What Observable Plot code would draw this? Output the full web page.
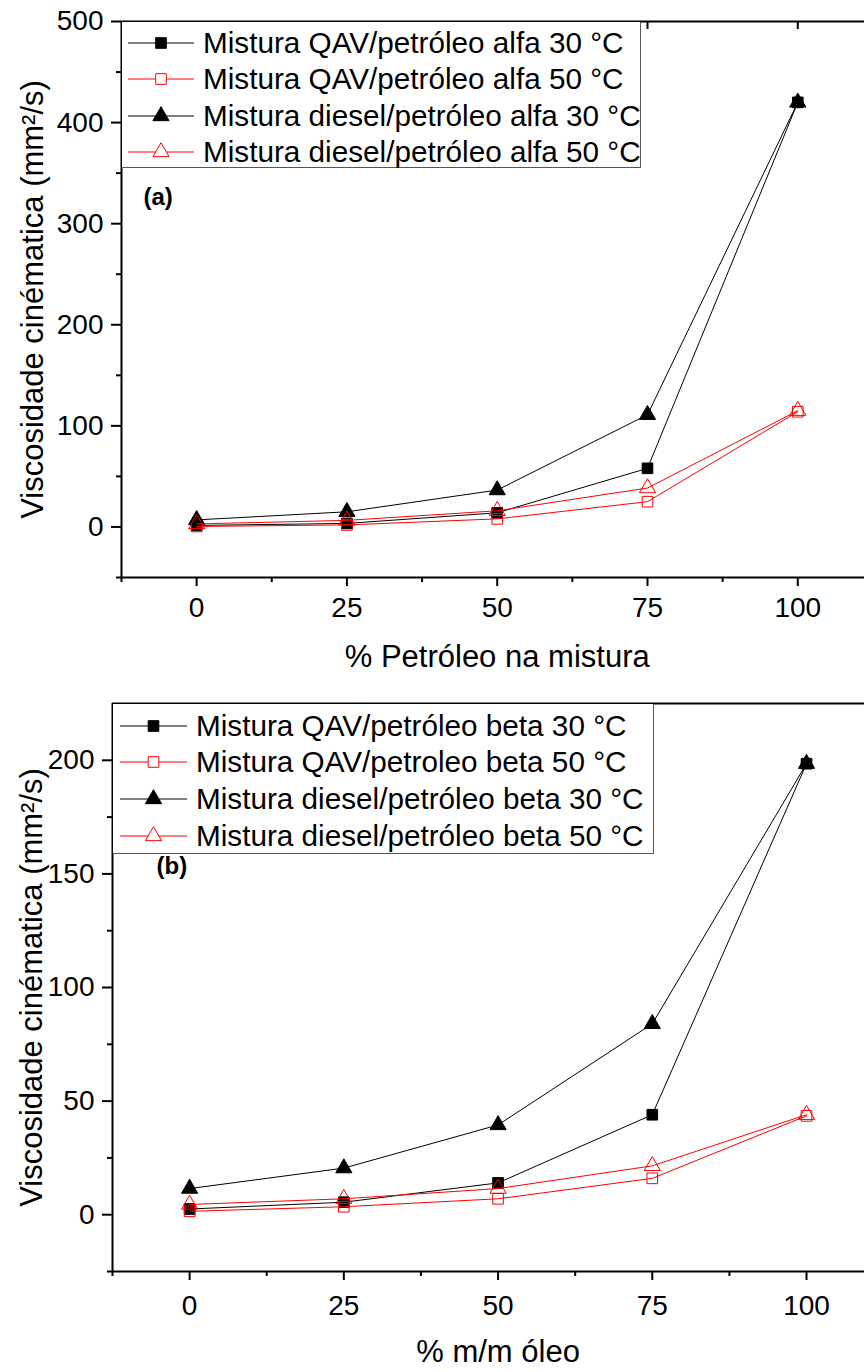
<!DOCTYPE html>
<html><head><meta charset="utf-8">
<script src="https://cdn.jsdelivr.net/npm/d3@7"></script>
<script src="https://cdn.jsdelivr.net/npm/@observablehq/plot@0.6"></script>
<style>
html,body{margin:0;padding:0;background:#fff;overflow:hidden;}
#wrap{position:relative;width:864px;height:1372px;font-family:Arial,"Liberation Sans",sans-serif;color:#000;}
.panel{position:absolute;left:0;}
.legend{position:absolute;background:#fff;border-right:1px solid #555;border-bottom:1px solid #555;box-sizing:border-box;}
.row{position:absolute;left:0;height:36px;display:flex;align-items:center;font-size:29.7px;white-space:nowrap;line-height:36px;}
.row svg{flex:none;}
</style></head><body><div id="wrap"></div>
<script>
// ---------- data ----------
const xValues = [0, 25, 50, 75, 100];

// Panel (a): alfa oil
const namesA = [
  "Mistura QAV/petróleo alfa 30 °C",
  "Mistura QAV/petróleo alfa 50 °C",
  "Mistura diesel/petróleo alfa 30 °C",
  "Mistura diesel/petróleo alfa 50 °C"
];
const aQAV30 = [1.5, 3.5, 14, 58, 420];
const aQAV50 = [0.5, 2, 8, 25, 114];
const aDiesel30 = [7, 15, 36.5, 111, 420];
const aDiesel50 = [3, 6.5, 16, 38.5, 115];

// Panel (b): beta oil
const namesB = [
  "Mistura QAV/petróleo beta 30 °C",
  "Mistura QAV/petroleo beta 50 °C",
  "Mistura diesel/petróleo beta 30 °C",
  "Mistura diesel/petróleo beta 50 °C"
];
const bQAV30 = [2.5, 5.5, 14, 44, 198.5];
const bQAV50 = [1.5, 3.5, 7, 16, 43.5];
const bDiesel30 = [11.5, 20.5, 39.5, 84, 198.5];
const bDiesel50 = [4.5, 7, 11.5, 21.5, 44];

// ticks
const xTicksMajor = [0, 25, 50, 75, 100];
const xTicksMinor = [-12.5, 12.5, 37.5, 62.5, 87.5];
const yTicksA = [0, 100, 200, 300, 400, 500];
const yTicksMinorA = [-50, 50, 150, 250, 350, 450];
const yTicksB = [0, 50, 100, 150, 200];
const yTicksMinorB = [-25, 25, 75, 125, 175];

const yLabel = "Viscosidade cinématica (mm²/s)";
const xLabelA = "% Petróleo na mistura";
const xLabelB = "% m/m óleo";

// ---------- styles ----------
const styles = [
  {color: "#000000", symbol: "square", filled: true},
  {color: "#ff0000", symbol: "square", filled: false},
  {color: "#000000", symbol: "triangle", filled: true},
  {color: "#ff0000", symbol: "triangle", filled: false}
];
const R = 6;

function toRows(vals) { return xValues.map((x, i) => ({x, y: vals[i]})); }

function makePanel(o) {
  const series = o.values.map((v, i) => ({rows: toRows(v), ...styles[i]}));
  const marks = [
    Plot.axisX({ticks: xTicksMinor, tickSize: 5, tickFormat: () => "", strokeWidth: 2, label: null}),
    Plot.axisX({ticks: xTicksMajor, tickSize: 9, tickPadding: o.xTickPad, fontSize: 28, strokeWidth: 2, label: null}),
    Plot.axisY({ticks: o.yMinor, tickSize: 5, tickFormat: () => "", strokeWidth: 2, label: null}),
    Plot.axisY({ticks: o.yTicks, tickSize: 10, tickPadding: 8, fontSize: 28, strokeWidth: 2, label: null}),
    Plot.ruleX([o.xDomain[0]], {stroke: "#000", strokeWidth: 2}),
    Plot.ruleY([o.yDomain[0]], {stroke: "#000", strokeWidth: 2}),
    Plot.ruleY([o.yDomain[1]], {stroke: "#000", strokeWidth: 2})
  ];
  if (o.topTicks) {
    marks.push(Plot.ruleX(xTicksMajor, {y1: o.yDomain[1], y2: o.yDomain[1], insetBottom: -8, stroke: "#000", strokeWidth: 2}));
  }
  for (const s of series) {
    marks.push(Plot.line(s.rows, {x: "x", y: "y", stroke: s.color, strokeWidth: 1}));
    marks.push(Plot.dot(s.rows, {x: "x", y: "y", symbol: s.symbol, r: R,
      fill: s.filled ? s.color : "none", stroke: s.color, strokeWidth: 1}));
  }
  marks.push(Plot.text([yLabel], {frameAnchor: "left", rotate: -90, dx: o.yLabelDx,
    textAnchor: "middle", lineAnchor: "middle", fontSize: 31, fill: "#000"}));
  marks.push(Plot.text([{x: d3.mean(xTicksMajor), t: o.xLabel}], {x: "x", text: "t", frameAnchor: "bottom",
    dy: o.xLabelDy, lineAnchor: "middle", fontSize: 31, fill: "#000"}));
  marks.push(Plot.text([o.tag], {frameAnchor: "top-left", dx: o.tagDx, dy: o.tagDy, textAnchor: "start",
    lineAnchor: "middle", fontSize: 24, fontWeight: "bold", fill: "#000"}));
  return Plot.plot({
    width: 864, height: o.height,
    marginTop: o.mt, marginBottom: o.mb, marginLeft: o.ml, marginRight: 0,
    x: {domain: o.xDomain, label: null}, y: {domain: o.yDomain, label: null},
    style: {fontFamily: "Arial, 'Liberation Sans', sans-serif", background: "#fff", color: "#000", overflow: "visible"},
    marks
  });
}

function makeLegend(names, box) {
  const lg = document.createElement("div");
  lg.className = "legend";
  Object.assign(lg.style, {left: box.left + "px", top: box.top + "px", width: box.width + "px", height: box.height + "px"});
  names.forEach((name, i) => {
    const st = styles[i];
    const row = document.createElement("div");
    row.className = "row";
    row.style.top = (box.rows[i] - 18) + "px";
    const svg = d3.create("svg").attr("width", box.textX).attr("height", 36);
    svg.append("line").attr("x1", box.lineX1).attr("x2", box.lineX2).attr("y1", 18).attr("y2", 18)
      .attr("stroke", st.color).attr("stroke-width", 1);
    svg.append("path").attr("transform", `translate(${(box.lineX1 + box.lineX2) / 2},18)`)
      .attr("d", d3.symbol(st.symbol === "square" ? d3.symbolSquare : d3.symbolTriangle, R * R * Math.PI)())
      .attr("fill", st.filled ? st.color : "#fff").attr("stroke", st.color).attr("stroke-width", 1);
    row.appendChild(svg.node());
    const sp = document.createElement("span");
    sp.textContent = name;
    row.appendChild(sp);
    lg.appendChild(row);
  });
  return lg;
}

const wrap = document.getElementById("wrap");

const pA = makePanel({
  values: [aQAV30, aQAV50, aDiesel30, aDiesel50],
  height: 680, mt: 21, mb: 103, ml: 121,
  xDomain: [-12.5, 111.1], yDomain: [-50, 500],
  yTicks: yTicksA, yMinor: yTicksMinorA, xTickPad: 11,
  yLabelDx: -88, xLabel: xLabelA, xLabelDy: 80,
  tag: "(a)", tagDx: 22, tagDy: 176, topTicks: true
});
const dA = document.createElement("div"); dA.className = "panel"; dA.style.top = "0px"; dA.appendChild(pA);
wrap.appendChild(dA);

const pB = makePanel({
  values: [bQAV30, bQAV50, bDiesel30, bDiesel50],
  height: 692, mt: 23, mb: 101, ml: 112,
  xDomain: [-12.5, 109.4], yDomain: [-25, 225],
  yTicks: yTicksB, yMinor: yTicksMinorB, xTickPad: 15,
  yLabelDx: -80, xLabel: xLabelB, xLabelDy: 81,
  tag: "(b)", tagDx: 44, tagDy: 163, topTicks: false
});
const dB = document.createElement("div"); dB.className = "panel"; dB.style.top = "680px"; dB.appendChild(pB);
wrap.appendChild(dB);

wrap.appendChild(makeLegend(namesA, {left: 122, top: 22, width: 519, height: 146,
  rows: [21, 57, 94, 130], lineX1: 6, lineX2: 72, textX: 81}));
wrap.appendChild(makeLegend(namesB, {left: 113, top: 704, width: 541, height: 150,
  rows: [22, 58, 95, 132], lineX1: 7, lineX2: 74, textX: 83}));
</script>
</body></html>
